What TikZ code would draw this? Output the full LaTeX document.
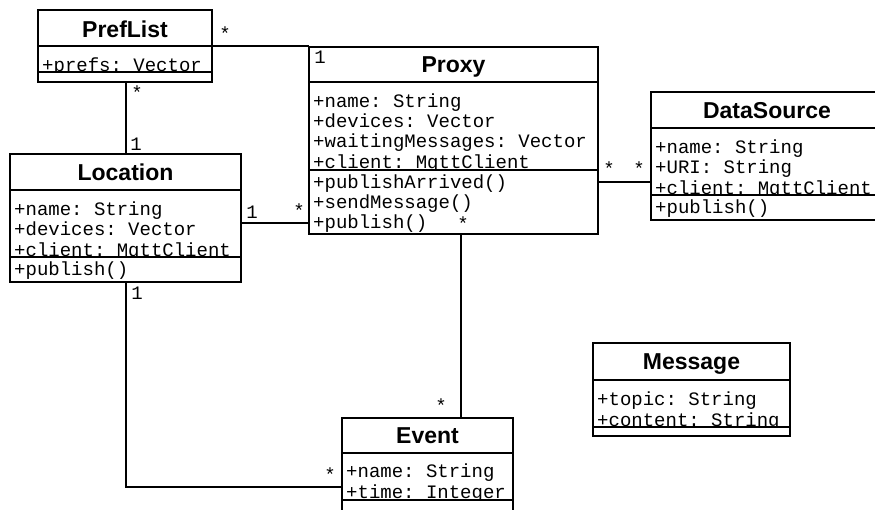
\documentclass[tikz,border=0pt]{standalone}
\usepackage{fontspec}
\newfontfamily\titlefont{Liberation Sans}
\setmonofont{Liberation Mono}
\begin{document}
\begin{tikzpicture}[x=1pt,y=-1pt,
  classbox/.style={draw, line width=2pt, inner sep=0pt, outer sep=0pt, anchor=north west},
  classtitle/.style={font=\titlefont\bfseries\fontsize{23}{23}\selectfont, anchor=base, inner sep=0pt},
  member/.style={font=\ttfamily\fontsize{19}{19}\selectfont, anchor=base west, inner sep=0pt},
  mult/.style={font=\ttfamily\fontsize{19}{19}\selectfont, inner sep=0pt},
  rule/.style={line width=2pt},
  link/.style={line width=2pt}]
\useasboundingbox (0,0) rectangle (875,509);
\fill[white] (0,0) rectangle (875,509);

% ---------- PrefList ----------
\node[classbox, minimum width=174pt, minimum height=72pt] (pl) at (38,10) {};
\node[classtitle] (pltitle) at (125,37) {PrefList};
\begin{scope}
  \clip (38,46) rectangle (212,71);
  \node[member] (pla) at (42,71) {+prefs: Vector};
\end{scope}
\draw[rule] (pl.west |- 0,46) -- (pl.east |- 0,46);
\draw[rule] (pl.west |- 0,72) -- (pl.east |- 0,72);

% ---------- Proxy ----------
\node[classbox, minimum width=289pt, minimum height=187pt] (px) at (309,47) {};
\node[classtitle] (pxtitle) at (453.5,72) {Proxy};
\begin{scope}
  \clip (309,82) rectangle (598,169);
  \node[member] (pxa) at (313,107) {+name: String};
  \node[member] (pxb) at (313,127) {+devices: Vector};
  \node[member] (pxc) at (313,147) {+waitingMessages: Vector};
  \node[member] (pxd) at (313,168) {+client: MqttClient};
\end{scope}
\node[member] (pxm1) at (313,188) {+publishArrived()};
\node[member] (pxm2) at (313,208) {+sendMessage()};
\node[member] (pxm3) at (313,228) {+publish()};
\draw[rule] (px.west |- 0,82) -- (px.east |- 0,82);
\draw[rule] (px.west |- 0,170) -- (px.east |- 0,170);

% ---------- Location ----------
\node[classbox, minimum width=231pt, minimum height=128pt] (loc) at (10,154) {};
\node[classtitle] (loctitle) at (125.5,180) {Location};
\begin{scope}
  \clip (10,190) rectangle (241,256);
  \node[member] (loca) at (14,215) {+name: String};
  \node[member] (locb) at (14,235) {+devices: Vector};
  \node[member] (locc) at (14,256) {+client: MqttClient};
\end{scope}
\node[member] (locm) at (14,275) {+publish()};
\draw[rule] (loc.west |- 0,190) -- (loc.east |- 0,190);
\draw[rule] (loc.west |- 0,257) -- (loc.east |- 0,257);

% ---------- DataSource ----------
\node[classbox, minimum width=232pt, minimum height=128pt] (ds) at (651,92) {};
\node[classtitle] (dstitle) at (767,118) {DataSource};
\begin{scope}
  \clip (651,128) rectangle (883,194);
  \node[member] (dsa) at (655,153) {+name: String};
  \node[member] (dsb) at (655,173) {+URI: String};
  \node[member] (dsc) at (655,194) {+client: MqttClient};
\end{scope}
\node[member] (dsm) at (655,213) {+publish()};
\draw[rule] (ds.west |- 0,128) -- (ds.east |- 0,128);
\draw[rule] (ds.west |- 0,195) -- (ds.east |- 0,195);

% ---------- Message ----------
\node[classbox, minimum width=197pt, minimum height=93pt] (msg) at (593,343) {};
\node[classtitle] (msgtitle) at (691.5,369) {Message};
\begin{scope}
  \clip (593,380) rectangle (790,426);
  \node[member] (msga) at (597,405) {+topic: String};
  \node[member] (msgb) at (597,426) {+content: String};
\end{scope}
\draw[rule] (msg.west |- 0,380) -- (msg.east |- 0,380);
\draw[rule] (msg.west |- 0,427) -- (msg.east |- 0,427);

% ---------- Event ----------
\node[classbox, minimum width=171pt, minimum height=97pt] (ev) at (342,418) {};
\node[classtitle] (evtitle) at (427.5,443.5) {Event};
\begin{scope}
  \clip (342,453) rectangle (513,499);
  \node[member] (eva) at (346,477.5) {+name: String};
  \node[member] (evb) at (346,498) {+time: Integer};
\end{scope}
\draw[rule] (ev.west |- 0,453) -- (ev.east |- 0,453);
\draw[rule] (ev.west |- 0,500) -- (ev.east |- 0,500);

% ---------- associations ----------
\draw[link] (pl.east |- 0,46) -- (px.west |- 0,46);
\draw[link] (pl.south -| 126,0) -- (loc.north -| 126,0);
\draw[link] (loc.east |- 0,223) -- (px.west |- 0,223);
\draw[link] (px.east |- 0,182) -- (ds.west |- 0,182);
\draw[link] (px.south -| 461,0) -- (ev.north -| 461,0);
\draw[link] (loc.south -| 126,0) |- (ev.west |- 0,487);

% ---------- multiplicities ----------
\node[mult] (m1) at (225,34) {*};
\node[mult] (m2) at (320,57) {1};
\node[mult] (m3) at (137,93) {*};
\node[mult] (m4) at (136,144) {1};
\node[mult] (m5) at (252,212) {1};
\node[mult] (m6) at (299,211) {*};
\node[mult] (m7) at (609,169) {*};
\node[mult] (m8) at (639,169) {*};
\node[mult] (m9) at (463,224) {*};
\node[mult] (m10) at (441,406) {*};
\node[mult] (m11) at (137,293) {1};
\node[mult] (m12) at (330,475) {*};
\end{tikzpicture}
\end{document}
